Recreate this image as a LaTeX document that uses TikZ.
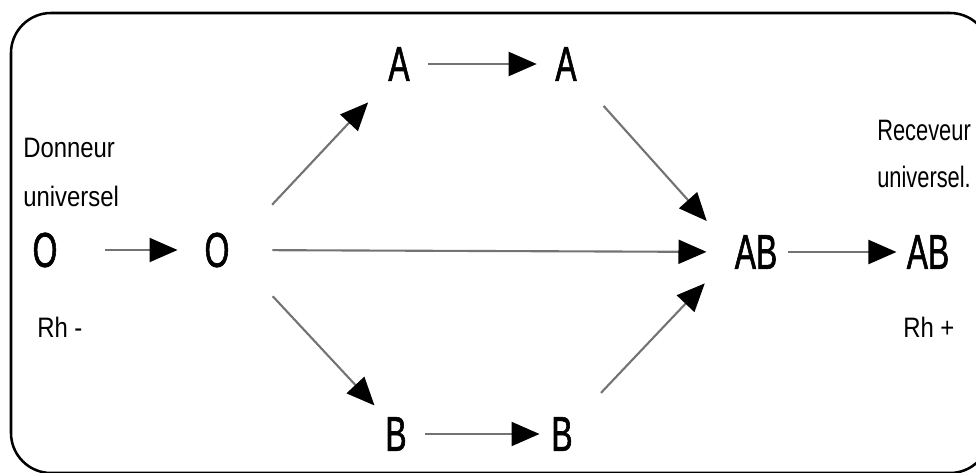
\documentclass[tikz,border=0pt]{standalone}
\usepackage{fontspec}
\newfontfamily\bigsans[FakeStretch=0.65, FakeBold=1.2]{Liberation Sans}
\newfontfamily\smallsans[FakeStretch=0.85]{Liberation Sans}
\newfontfamily\narrowsans[FakeStretch=0.74]{Liberation Sans}
\usetikzlibrary{arrows.meta}

\begin{document}
\begin{tikzpicture}[x=0.025cm, y=-0.025cm,
    letter/.style={inner sep=0pt, font=\bigsans\fontsize{34.8}{36}\selectfont},
    note/.style={inner sep=0pt, align=left, anchor=north west, font=\smallsans\fontsize{20}{35}\selectfont},
    arrow/.style={-{Triangle[length=7mm, width=6mm, color=black]}, line width=1.5pt, draw=black!55},
]
    \useasboundingbox (0,0) rectangle (976,473);
    % Frame
    \draw[line width=1.8pt, rounded corners=1cm] (11,13) rectangle (990,473);

    % Blood groups
    \node[letter] (O1) at (45,250) {O};
    \node[letter] (O2) at (217,250) {O};
    \node[letter] (A1) at (399,64) {A};
    \node[letter] (A2) at (566,64) {A};
    \node[letter] (B1) at (396,434) {B};
    \node[letter] (B2) at (562,434) {B};
    \node[letter] (AB1) at (756,252) {AB};
    \node[letter] (AB2) at (928,252) {AB};

    % Notes
    \node[note] (donneur) at (23,138) {Donneur\\universel};
    \node[note, font=\narrowsans\fontsize{21}{33}\selectfont] (receveur) at (877,120) {Receveur\\universel.};
    \node[note] (rhmoins) at (37,317) {Rh -};
    \node[note] (rhplus) at (903,317) {Rh +};

    % Transfusions
    \draw[arrow, shorten >=0.67cm, shorten <=1.19cm] (O1.east) -- (O2.west);
    \draw[arrow, shorten >=0.7cm, shorten <=1.07cm] (O2.east) -- (AB1.west);
    \draw[arrow, shorten >=0.73cm, shorten <=1.55cm] (O2.east) -- (A1.south west);
    \draw[arrow, shorten >=0.39cm, shorten <=1.58cm] (O2.east) -- (B1.north west);
    \draw[arrow, shorten >=0.46cm, shorten <=0.46cm] (A1.east) -- (A2.west);
    \draw[arrow, shorten >=0.29cm, shorten <=0.46cm] (B1.east) -- (B2.west);
    \draw[arrow, shorten >=1.04cm, shorten <=1.0cm] (A2) -- (AB1.west);
    \draw[arrow, shorten >=1.08cm, shorten <=1.02cm] (B2) -- (AB1.west);
    \draw[arrow, shorten >=0.25cm, shorten <=0.27cm] (AB1.east) -- (AB2.west);
\end{tikzpicture}
\end{document}
